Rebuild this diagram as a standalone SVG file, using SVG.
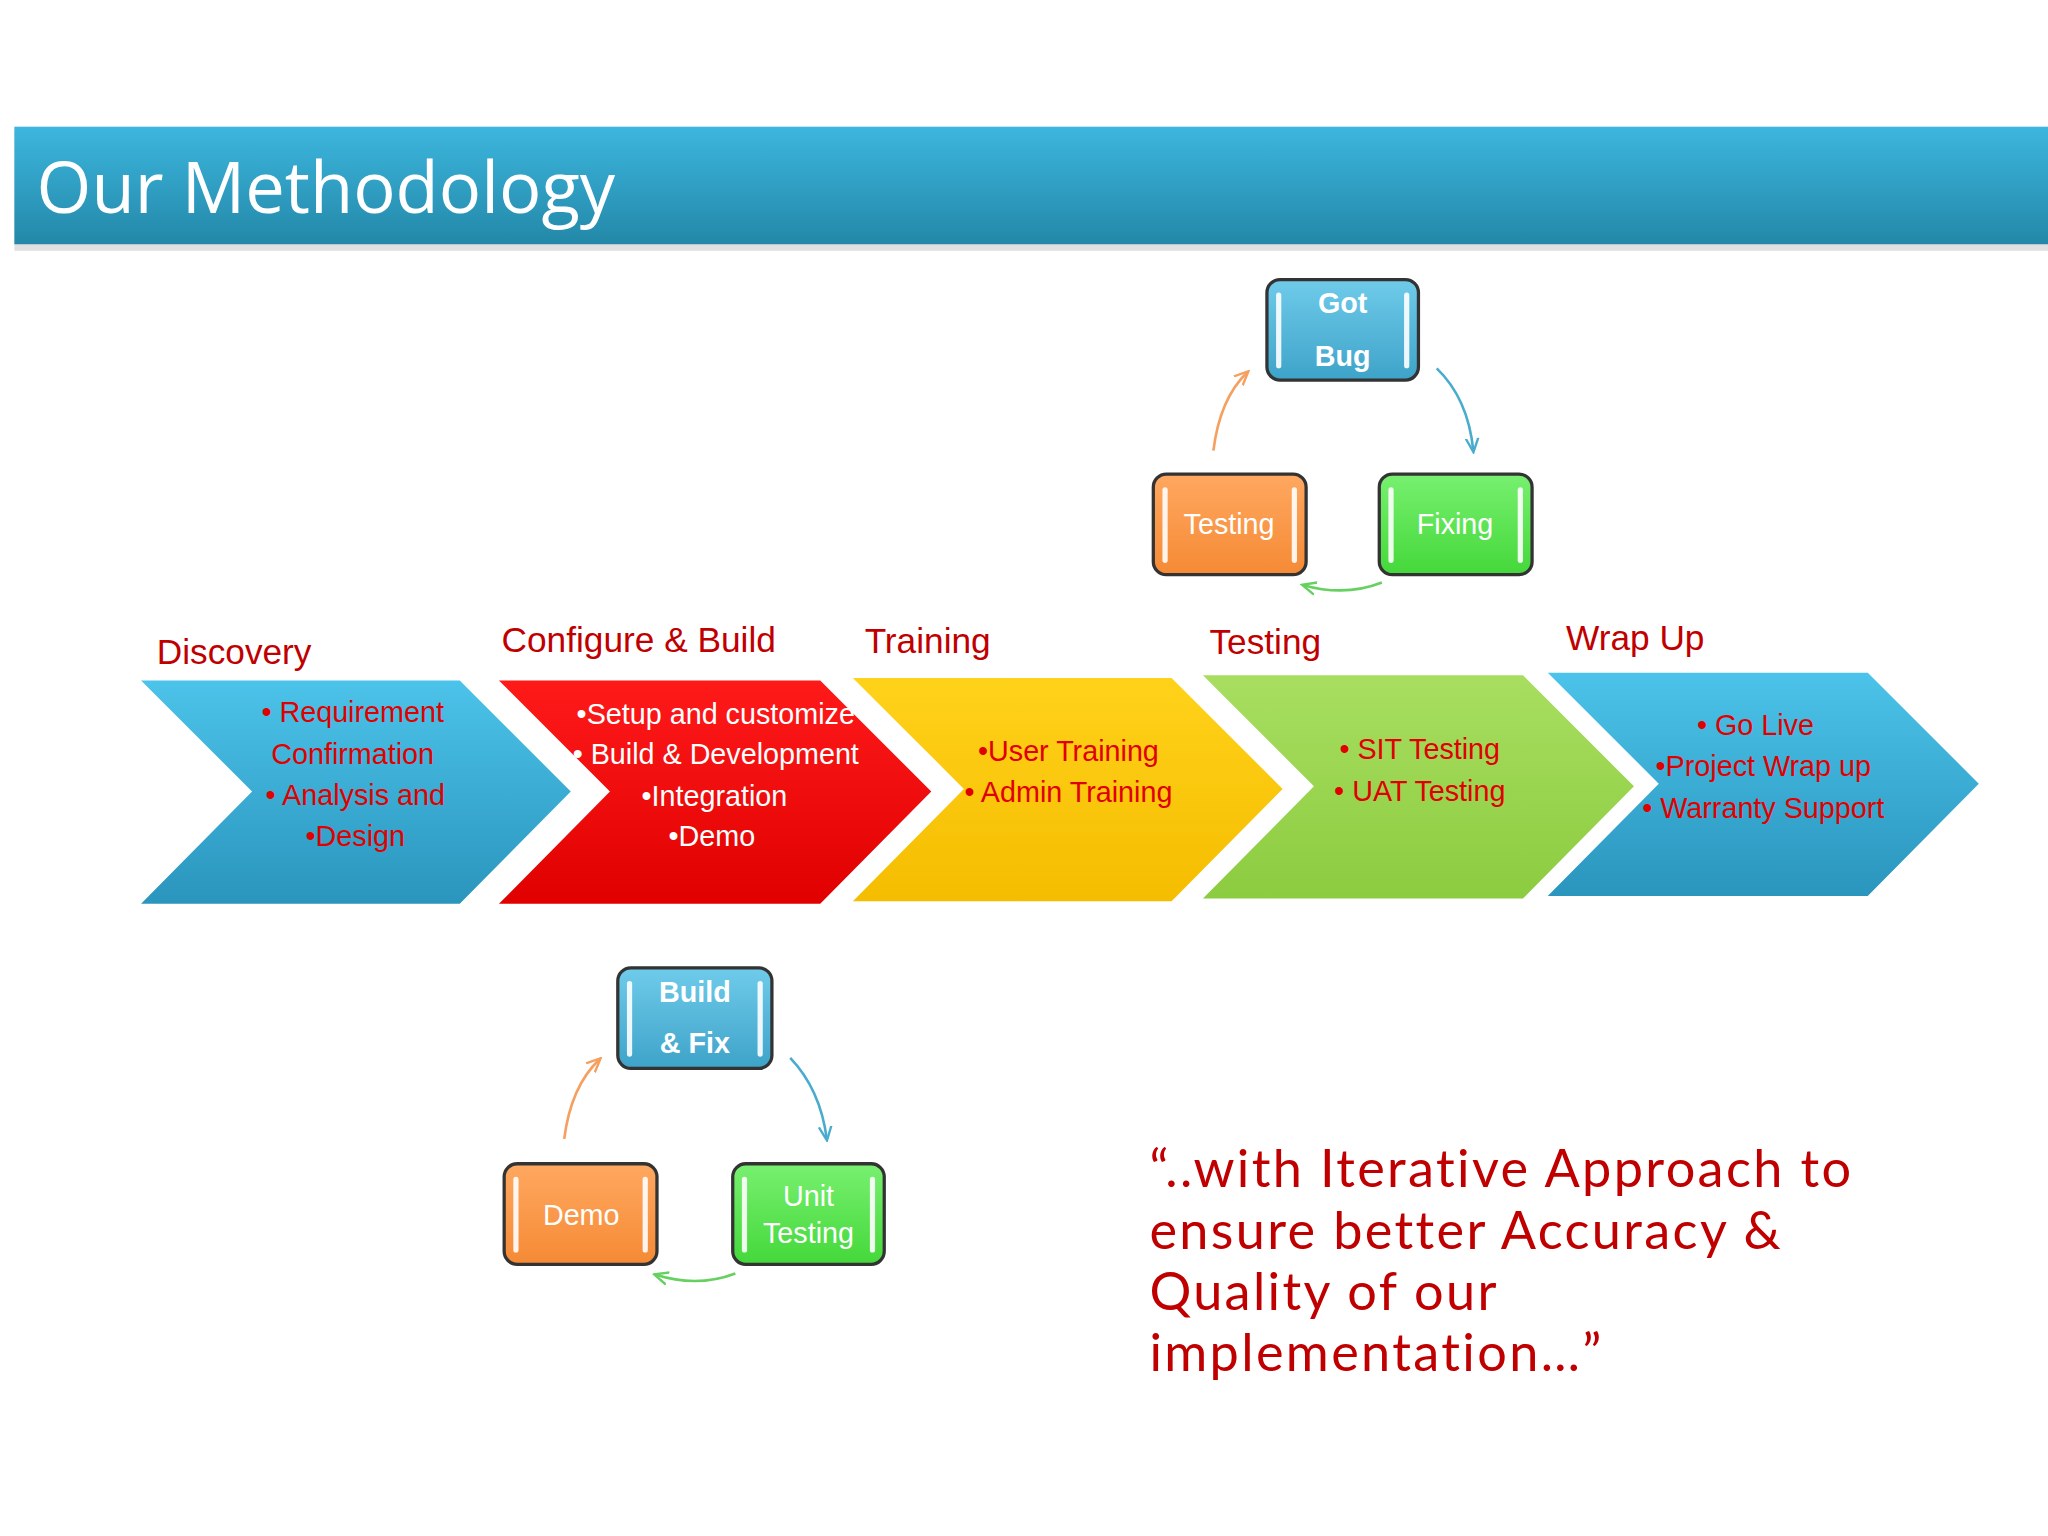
<svg xmlns="http://www.w3.org/2000/svg" width="2048" height="1536" viewBox="0 0 2048 1536">
<defs>
<linearGradient id="ban" x1="0" y1="0" x2="0" y2="1"><stop offset="0" stop-color="#3db6de"/><stop offset="1" stop-color="#2388a8"/></linearGradient>
<linearGradient id="gb" x1="0" y1="0" x2="0" y2="1"><stop offset="0" stop-color="#4cc3ea"/><stop offset="1" stop-color="#2a95bd"/></linearGradient>
<linearGradient id="gr" x1="0" y1="0" x2="0" y2="1"><stop offset="0" stop-color="#ff1a1a"/><stop offset="1" stop-color="#e00000"/></linearGradient>
<linearGradient id="gy" x1="0" y1="0" x2="0" y2="1"><stop offset="0" stop-color="#ffd21a"/><stop offset="1" stop-color="#f5bd00"/></linearGradient>
<linearGradient id="gg" x1="0" y1="0" x2="0" y2="1"><stop offset="0" stop-color="#a8de60"/><stop offset="1" stop-color="#8ccc40"/></linearGradient>
<linearGradient id="bb" x1="0" y1="0" x2="0" y2="1"><stop offset="0" stop-color="#6fcbea"/><stop offset="1" stop-color="#3ea3c9"/></linearGradient>
<linearGradient id="bo" x1="0" y1="0" x2="0" y2="1"><stop offset="0" stop-color="#ffa860"/><stop offset="1" stop-color="#f58a35"/></linearGradient>
<linearGradient id="bg" x1="0" y1="0" x2="0" y2="1"><stop offset="0" stop-color="#78f070"/><stop offset="1" stop-color="#44d83a"/></linearGradient>
<marker id="mo" viewBox="0 0 10 10" refX="8" refY="5" markerWidth="6" markerHeight="6" orient="auto"><path d="M0,1 L9,5 L0,9" fill="none" stroke="#f5a060" stroke-width="1.5"/></marker>
<marker id="mb" viewBox="0 0 10 10" refX="8" refY="5" markerWidth="6" markerHeight="6" orient="auto"><path d="M0,1 L9,5 L0,9" fill="none" stroke="#4aaccc" stroke-width="1.5"/></marker>
<marker id="mg" viewBox="0 0 10 10" refX="8" refY="5" markerWidth="6" markerHeight="6" orient="auto"><path d="M0,1 L9,5 L0,9" fill="none" stroke="#66d060" stroke-width="1.5"/></marker>
<style>
.lab{font-family:"Liberation Sans",Arial,sans-serif;font-size:27px;fill:#c00000}
.t{font-family:"Liberation Sans",Arial,sans-serif;font-size:22px;fill:#e00000;text-anchor:middle}
.ty{font-family:"Liberation Sans",Arial,sans-serif;font-size:22px;fill:#e00000;text-anchor:middle}
.tw{font-family:"Liberation Sans",Arial,sans-serif;font-size:22px;fill:#fff;text-anchor:middle}
.box{stroke:#333;stroke-width:2.5}
.bar{fill:none;stroke:#fff;stroke-width:4;stroke-linecap:round;opacity:0.9}
.chev{stroke:none}
</style>
</defs>
<rect width="2048" height="1536" fill="#fff"/>
<g transform="scale(1.30612)">
<g id="banner">
<rect x="11" y="100" width="1557" height="92" fill="#000" opacity="0.12"/>
<rect x="11" y="97" width="1557" height="90" fill="url(#ban)"/>
<text x="28" y="163" font-family="Open Sans,Liberation Sans,sans-serif" font-size="54" fill="#fff">Our Methodology</text>
</g>
<g id="discovery">
<polygon class="chev" points="108,521 352,521 437,606 352,692 108,692 193,606" fill="url(#gb)"/>
<text class="lab" x="120" y="508">Discovery</text>
<text class="t" x="270" y="553">• Requirement</text>
<text class="t" x="270" y="585">Confirmation</text>
<text class="t" x="272" y="616">• Analysis and</text>
<text class="t" x="272" y="648">•Design</text>
</g>
<g id="configure">
<polygon class="chev" points="382,521 628,521 713,606 628,692 382,692 467,606" fill="url(#gr)"/>
<text class="lab" x="384" y="499">Configure &amp; Build</text>
<text class="tw" x="548" y="554">•Setup and customize</text>
<text class="tw" x="548" y="585">• Build &amp; Development</text>
<text class="tw" x="547" y="617">•Integration</text>
<text class="tw" x="545" y="648">•Demo</text>
</g>
<g id="training">
<polygon class="chev" points="653,519 897,519 982,604 897,690 653,690 738,604" fill="url(#gy)"/>
<text class="lab" x="662" y="500">Training</text>
<text class="ty" x="818" y="583">•User Training</text>
<text class="ty" x="818" y="614">• Admin Training</text>
</g>
<g id="testing">
<polygon class="chev" points="921,517 1166,517 1251,602 1166,688 921,688 1006,602" fill="url(#gg)"/>
<text class="lab" x="926" y="501">Testing</text>
<text class="t" x="1087" y="581">• SIT Testing</text>
<text class="t" x="1087" y="613">• UAT Testing</text>
</g>
<g id="wrapup">
<polygon class="chev" points="1185,515 1430,515 1515,600 1430,686 1185,686 1270,600" fill="url(#gb)"/>
<text class="lab" x="1199" y="498">Wrap Up</text>
<text class="t" x="1344" y="563">• Go Live</text>
<text class="t" x="1350" y="594">•Project Wrap up</text>
<text class="t" x="1350" y="626">• Warranty Support</text>
</g>
<g id="gotbug">
<rect class="box" x="970" y="214" width="116" height="77" rx="10" fill="url(#bb)"/>
<line class="bar" x1="979" y1="226" x2="979" y2="280"/><line class="bar" x1="1077" y1="226" x2="1077" y2="280"/>
<text class="tw" x="1028" y="240" font-weight="bold">Got</text>
<text class="tw" x="1028" y="280" font-weight="bold">Bug</text>
</g>
<g id="testingbox">
<rect class="box" x="883" y="363" width="117" height="77" rx="10" fill="url(#bo)"/>
<line class="bar" x1="892" y1="375" x2="892" y2="429"/><line class="bar" x1="991" y1="375" x2="991" y2="429"/>
<text class="tw" x="941" y="409">Testing</text>
</g>
<g id="fixing">
<rect class="box" x="1056" y="363" width="117" height="77" rx="10" fill="url(#bg)"/>
<line class="bar" x1="1065" y1="375" x2="1065" y2="429"/><line class="bar" x1="1164" y1="375" x2="1164" y2="429"/>
<text class="tw" x="1114" y="409">Fixing</text>
</g>
<g id="buildfix">
<rect class="box" x="473" y="741" width="118" height="77" rx="10" fill="url(#bb)"/>
<line class="bar" x1="482" y1="753" x2="482" y2="807"/><line class="bar" x1="582" y1="753" x2="582" y2="807"/>
<text class="tw" x="532" y="767" font-weight="bold">Build</text>
<text class="tw" x="532" y="806" font-weight="bold">&amp; Fix</text>
</g>
<g id="demo">
<rect class="box" x="386" y="891" width="117" height="77" rx="10" fill="url(#bo)"/>
<line class="bar" x1="395" y1="903" x2="395" y2="957"/><line class="bar" x1="494" y1="903" x2="494" y2="957"/>
<text class="tw" x="445" y="938">Demo</text>
</g>
<g id="unittesting">
<rect class="box" x="561" y="891" width="116" height="77" rx="10" fill="url(#bg)"/>
<line class="bar" x1="570" y1="903" x2="570" y2="957"/><line class="bar" x1="668" y1="903" x2="668" y2="957"/>
<text class="tw" x="619" y="923">Unit</text>
<text class="tw" x="619" y="952">Testing</text>
</g>
<g id="connectors" fill="none" stroke-width="2">
<path d="M929,345 Q934,305 955,285" stroke="#f5a060" marker-end="url(#mo)"/>
<path d="M1100,282 Q1124,305 1128,345" stroke="#4aaccc" marker-end="url(#mb)"/>
<path d="M1058,446 Q1030,457 998,448" stroke="#66d060" marker-end="url(#mg)"/>
<path d="M432,872 Q437,832 459,811" stroke="#f5a060" marker-end="url(#mo)"/>
<path d="M605,810 Q628,834 633,872" stroke="#4aaccc" marker-end="url(#mb)"/>
<path d="M563,975 Q534,986 502,976" stroke="#66d060" marker-end="url(#mg)"/>
</g>
<g id="quote" font-family="Lato,Liberation Sans,sans-serif" font-size="40" fill="#c00000" letter-spacing="1.8">
<text x="880" y="909">“..with Iterative Approach to</text>
<text x="880" y="956">ensure better Accuracy &amp;</text>
<text x="880" y="1003">Quality of our</text>
<text x="880" y="1050">implementation…”</text>
</g>
</g>
</svg>
